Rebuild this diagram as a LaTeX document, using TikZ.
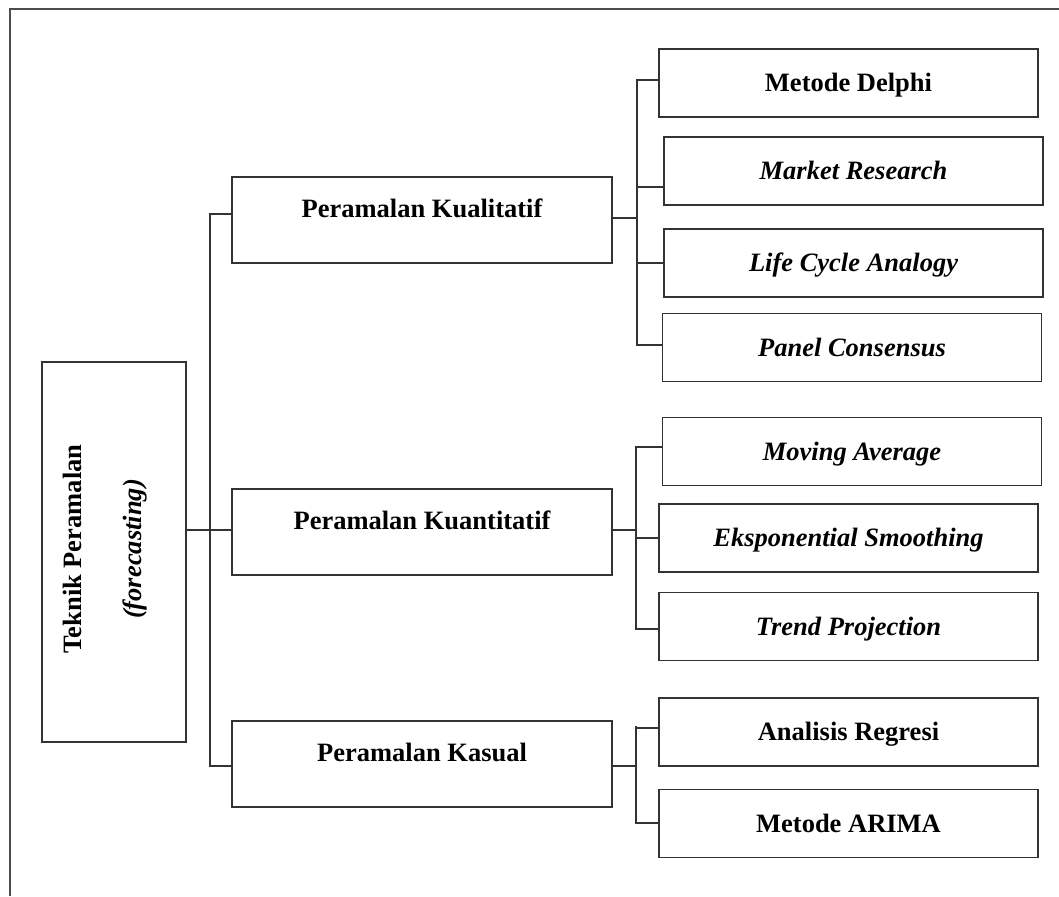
\documentclass[tikz,border=0pt]{standalone}
\usepackage{fontspec}
\setmainfont{Liberation Serif}
\begin{document}
\begin{tikzpicture}[x=1pt,y=-1pt,
  box/.style={draw=black!80, line width=1.6pt, rectangle, inner sep=0pt},
  midbox/.style={box, minimum width=380pt, minimum height=86pt,
    font=\bfseries\fontsize{26.5}{31}\selectfont, text height=18pt, text depth=24pt},
  leaf/.style={box, minimum width=379pt, minimum height=68pt,
    font=\bfseries\fontsize{26.5}{31}\selectfont, text height=17pt, text depth=0pt},
  ileaf/.style={leaf, font=\bfseries\itshape\fontsize{26.5}{31}\selectfont},
  conn/.style={draw=black!80, line width=1.6pt},
  frame/.style={draw=black!70, line width=1.6pt}]
\useasboundingbox (0,0) rectangle (1059,896);
\draw[frame] (10,896) -- (10,9) -- (1059,9);

% root
\node[box, minimum width=144pt, minimum height=380pt] (root) at (114,552) {};
\node[rotate=90, align=center, inner sep=0pt,
  font=\bfseries\fontsize{26.5}{60}\selectfont] (roottext) at (105,549)
  {Teknik Peramalan\\\textit{(forecasting)}};

% level 2
\node[midbox] (k1) at (422,220) {Peramalan Kualitatif};
\node[midbox] (k2) at (422,532) {Peramalan Kuantitatif};
\node[midbox] (k3) at (422,764) {Peramalan Kasual};

% level 3
\node[leaf]  (m1) at (848.5,83)  {Metode Delphi};
\node[ileaf] (m2) at (853.5,171) {Market Research};
\node[ileaf] (m3) at (853.5,263) {Life Cycle Analogy};
\node[ileaf] (m4) at (852,347.5) {Panel Consensus};

\node[ileaf] (n1) at (852,451.5) {Moving Average};
\node[ileaf] (n2) at (848.5,538) {Eksponential Smoothing};
\node[ileaf] (n3) at (848.5,626.5) {Trend Projection};

\node[leaf]  (r1) at (848.5,732) {Analisis Regresi};
\node[leaf]  (r2) at (848.5,823.5) {Metode ARIMA};

% trunk
\coordinate (tr) at (210,0);
\draw[conn] ([yshift=6pt]k1.west) -- ([yshift=6pt]k1.west -| tr) -- ([yshift=-2pt]k3.west -| tr) -- ([yshift=-2pt]k3.west);
\draw[conn] ([yshift=22pt]root.east) -- ([yshift=2pt]k2.west);

% group 1
\coordinate (b1) at (637,0);
\draw[conn] ([yshift=2pt]k1.east) -- ([yshift=2pt]k1.east -| b1);
\draw[conn] ([yshift=3pt]m1.west) -- ([yshift=3pt]m1.west -| b1) -- ([yshift=2.5pt]m4.west -| b1) -- ([yshift=2.5pt]m4.west);
\draw[conn] ([yshift=-16pt]m2.west) -- ([yshift=-16pt]m2.west -| b1);
\draw[conn] (m3.west) -- (m3.west -| b1);

% group 2
\coordinate (b2) at (636,0);
\draw[conn] ([yshift=2pt]k2.east) -- ([yshift=2pt]k2.east -| b2);
\draw[conn] ([yshift=4.5pt]n1.west) -- ([yshift=4.5pt]n1.west -| b2) -- ([yshift=-2.5pt]n3.west -| b2) -- ([yshift=-2.5pt]n3.west);
\draw[conn] (n2.west) -- (n2.west -| b2);

% group 3
\coordinate (b3) at (636,0);
\draw[conn] ([yshift=-2pt]k3.east) -- ([yshift=-2pt]k3.east -| b3);
\draw[conn] ([yshift=4pt]r1.west) -- ([yshift=4pt]r1.west -| b3) -- ([yshift=0.5pt]r2.west -| b3) -- ([yshift=0.5pt]r2.west);
\draw[conn] ([yshift=6pt]r1.west -| b3) -- ([yshift=4pt]r1.west -| b3);
\end{tikzpicture}
\end{document}
